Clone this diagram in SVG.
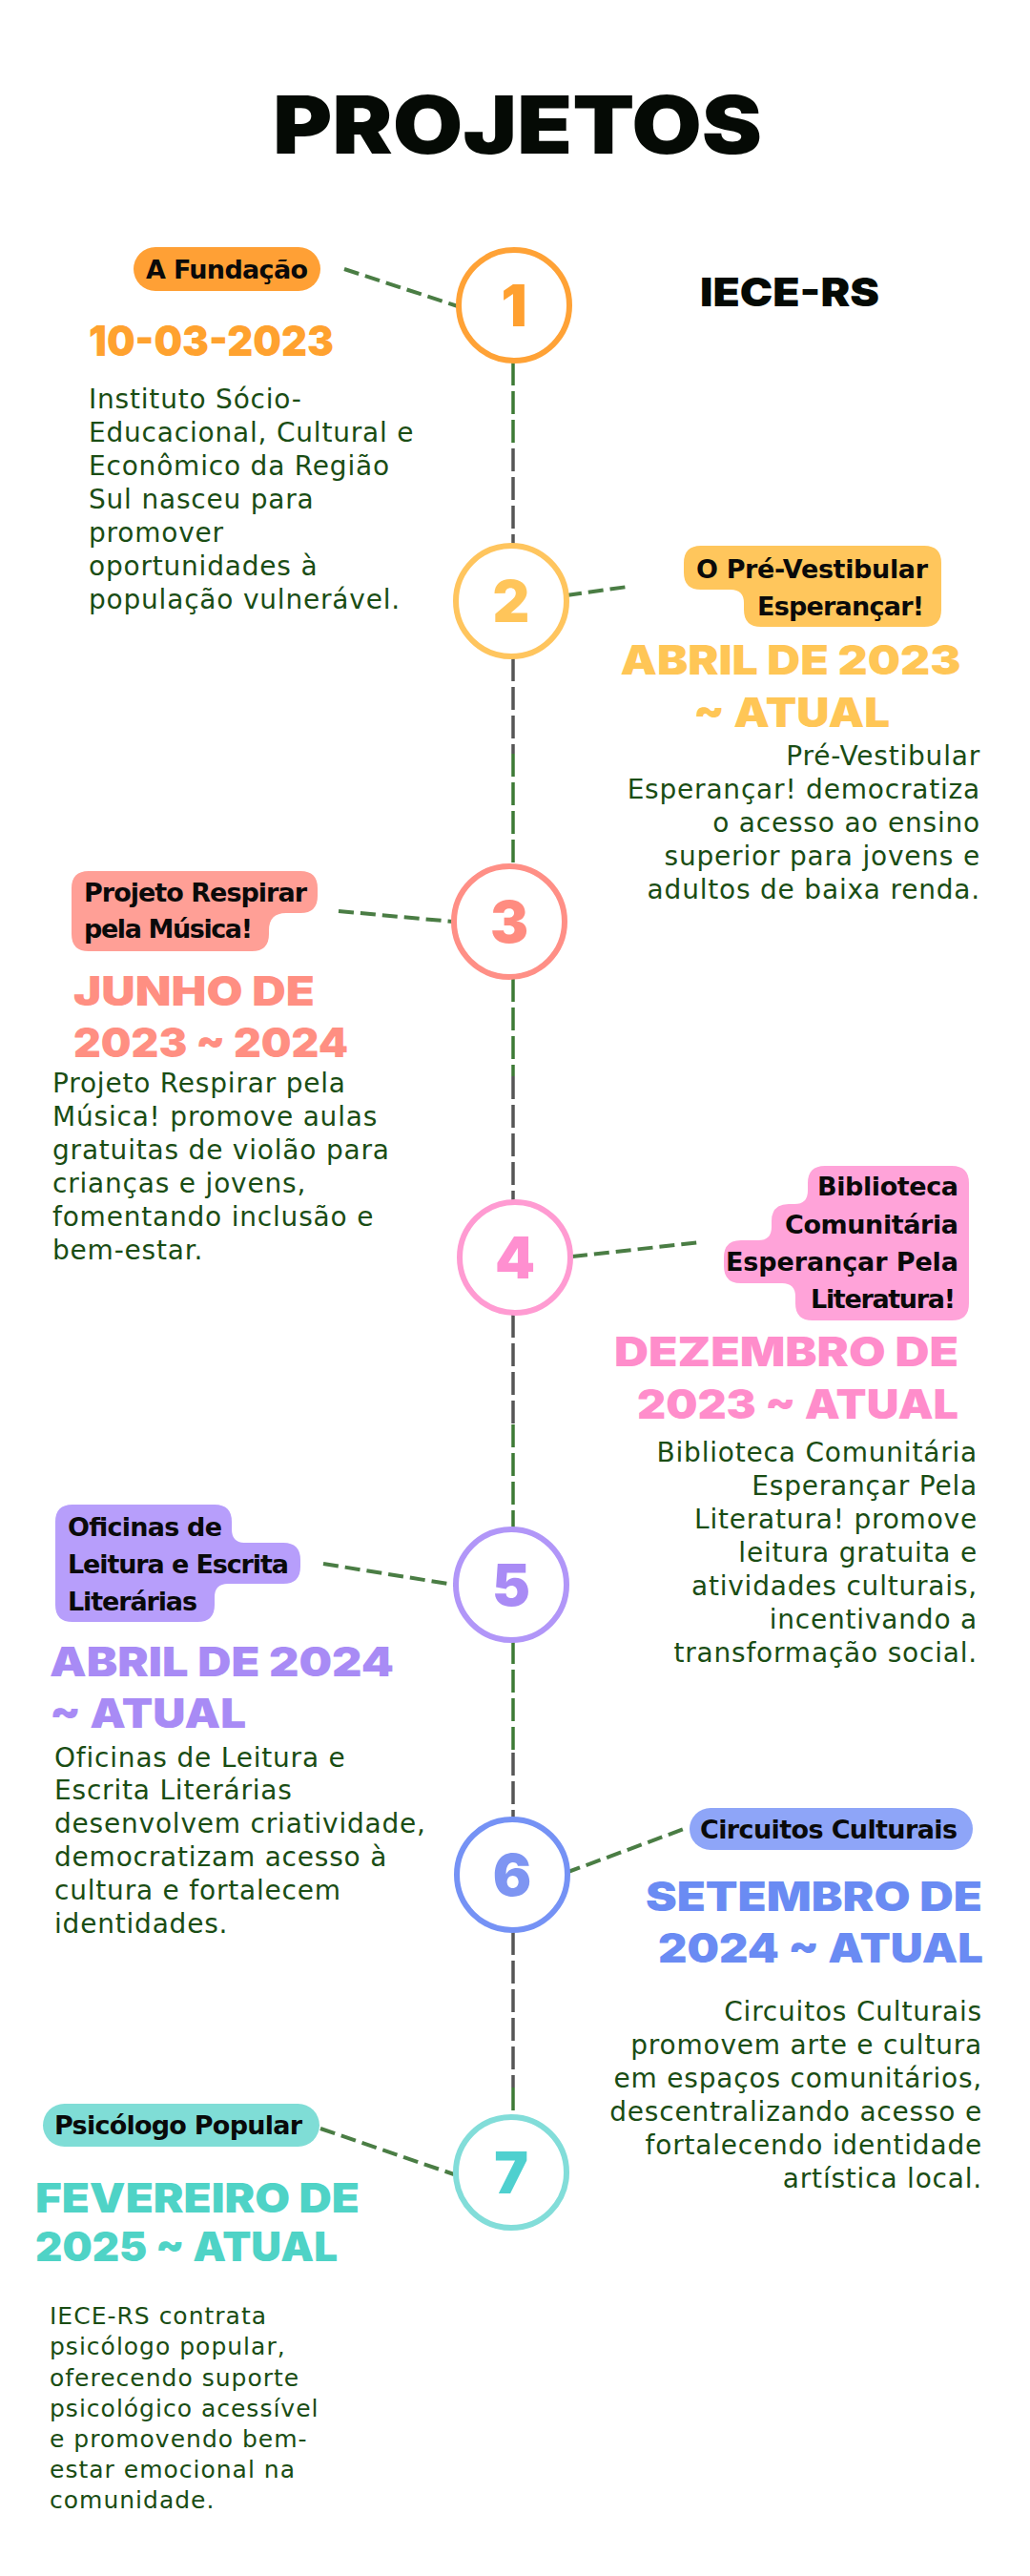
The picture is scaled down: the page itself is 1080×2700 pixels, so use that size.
<svg xmlns="http://www.w3.org/2000/svg" width="1080" height="2700" viewBox="0 0 1080 2700">
<defs>
<style>
.bg{fill:#ffffff}
.title{font-family:Inter,"DejaVu Sans",sans-serif;font-weight:900;fill:#050a05}
.head{font-family:Inter,"DejaVu Sans",sans-serif;font-weight:900}
.lbl{font-family:"DejaVu Sans","Liberation Sans",sans-serif;font-weight:bold;font-size:27px;fill:#0a0a0a}
.body{font-family:"DejaVu Sans","Liberation Sans",sans-serif;font-size:28px;letter-spacing:0.8px;fill:#1a4d14}
.body7{font-family:"DejaVu Sans","Liberation Sans",sans-serif;font-size:25px;letter-spacing:1px;fill:#1a4d14}
.num{font-family:Inter,"DejaVu Sans",sans-serif;font-weight:900;font-size:60px;text-anchor:middle}
.ring{fill:#ffffff;stroke-width:6}
.conn{fill:none;stroke:#4a7d44;stroke-width:4;stroke-dasharray:16 7}
.sg{fill:none;stroke:#3d7a35;stroke-width:3.5;stroke-dasharray:24 6}
.sd{fill:none;stroke:#555555;stroke-width:3.5;stroke-dasharray:24 6}
.end{text-anchor:end}
.mid{text-anchor:middle}
</style>
</defs>
<rect class="bg" x="0" y="0" width="1080" height="2700"/>

<g id="title">
<text class="title" x="286" y="161" font-size="84" textLength="513" lengthAdjust="spacingAndGlyphs">PROJETOS</text>
<text class="title" x="734" y="321" font-size="41" font-weight="800" textLength="188" lengthAdjust="spacingAndGlyphs">IECE-RS</text>
</g>

<g id="connectors">
<line class="sg" x1="538" y1="380" x2="538" y2="470"/>
<line class="sd" x1="538" y1="470" x2="538" y2="572"/>
<line class="sd" x1="538" y1="690" x2="538" y2="790"/>
<line class="sg" x1="538" y1="790" x2="538" y2="907"/>
<line class="sg" x1="538" y1="1026" x2="538" y2="1128"/>
<line class="sd" x1="538" y1="1128" x2="538" y2="1259"/>
<line class="sd" x1="538" y1="1378" x2="538" y2="1493"/>
<line class="sg" x1="538" y1="1493" x2="538" y2="1602"/>
<line class="sg" x1="538" y1="1720" x2="538" y2="1837"/>
<line class="sd" x1="538" y1="1837" x2="538" y2="1906"/>
<line class="sd" x1="538" y1="2025" x2="538" y2="2188"/>
<line class="sg" x1="538" y1="2188" x2="538" y2="2218"/>
<line class="conn" x1="361" y1="282" x2="480" y2="321"/>
<line class="conn" x1="594" y1="624" x2="658" y2="615"/>
<line class="conn" x1="355" y1="955" x2="475" y2="966"/>
<line class="conn" x1="600" y1="1317" x2="735" y2="1302"/>
<line class="conn" x1="339" y1="1639" x2="476" y2="1661"/>
<line class="conn" x1="593" y1="1963" x2="717" y2="1917"/>
<line class="conn" x1="336" y1="2231" x2="476" y2="2279"/>
</g>

<g id="node1">
<rect x="140" y="259" width="196" height="46" rx="23" fill="#ffa035"/>
<text class="lbl" x="153" y="292" textLength="170">A Fundação</text>
<circle class="ring" cx="539" cy="320" r="58" stroke="#ffa236"/>
<text class="num" x="539" y="342" fill="#ffa030">1</text>
<text class="head" x="93" y="373" font-size="44" fill="#ffa22f" textLength="257" lengthAdjust="spacingAndGlyphs">10-03-2023</text>
<text class="body" x="93" y="428">Instituto Sócio-</text>
<text class="body" x="93" y="463">Educacional, Cultural e</text>
<text class="body" x="93" y="498">Econômico da Região</text>
<text class="body" x="93" y="533">Sul nasceu para</text>
<text class="body" x="93" y="568">promover</text>
<text class="body" x="93" y="603">oportunidades à</text>
<text class="body" x="93" y="638">população vulnerável.</text>
</g>

<g id="node2">
<path d="M735,572 H969 Q987,572 987,590 V639 Q987,657 969,657 H798 Q780,657 780,639 V632 Q780,618 766,618 H735 Q717,618 717,600 V590 Q717,572 735,572 Z" fill="#ffc65c"/>
<text class="lbl end" x="973" y="606" textLength="243">O Pré-Vestibular</text>
<text class="lbl end" x="969" y="645" textLength="175">Esperançar!</text>
<circle class="ring" cx="536" cy="630" r="58" stroke="#ffc55e"/>
<text class="num" x="536" y="652" fill="#ffc55a">2</text>
<text class="head mid" x="829" y="707" font-size="42" fill="#ffc656" textLength="357" lengthAdjust="spacingAndGlyphs">ABRIL DE 2023</text>
<text class="head mid" x="830" y="762" font-size="42" fill="#ffc656" textLength="206" lengthAdjust="spacingAndGlyphs">~ ATUAL</text>
<text class="body end" x="1028" y="802">Pré-Vestibular</text>
<text class="body end" x="1028" y="837">Esperançar! democratiza</text>
<text class="body end" x="1028" y="872">o acesso ao ensino</text>
<text class="body end" x="1028" y="907">superior para jovens e</text>
<text class="body end" x="1028" y="942">adultos de baixa renda.</text>
</g>

<g id="node3">
<path d="M93,913 H315 Q333,913 333,931 V939 Q333,957 315,957 H300 Q282,957 282,975 V979 Q282,997 264,997 H93 Q75,997 75,979 V931 Q75,913 93,913 Z" fill="#ff9f96"/>
<text class="lbl" x="88" y="945" textLength="234">Projeto Respirar</text>
<text class="lbl" x="88" y="983" textLength="177">pela Música!</text>
<circle class="ring" cx="534" cy="966" r="58" stroke="#ff8f86"/>
<text class="num" x="534" y="988" fill="#ff8c80">3</text>
<text class="head" x="77" y="1054" font-size="42" fill="#ff8f82" textLength="253" lengthAdjust="spacingAndGlyphs">JUNHO DE</text>
<text class="head" x="77" y="1108" font-size="42" fill="#ff8f82" textLength="288" lengthAdjust="spacingAndGlyphs">2023 ~ 2024</text>
<text class="body" x="55" y="1145">Projeto Respirar pela</text>
<text class="body" x="55" y="1180">Música! promove aulas</text>
<text class="body" x="55" y="1215">gratuitas de violão para</text>
<text class="body" x="55" y="1250">crianças e jovens,</text>
<text class="body" x="55" y="1285">fomentando inclusão e</text>
<text class="body" x="55" y="1320">bem-estar.</text>
</g>

<g id="node4">
<path d="M865,1222 H998 Q1016,1222 1016,1240 V1366 Q1016,1384 998,1384 H852 Q834,1384 834,1366 V1359 Q834,1345 820,1345 H777 Q759,1345 759,1327 V1318 Q759,1300 777,1300 H795 Q809,1300 809,1286 V1280 Q809,1262 827,1262 H833 Q847,1262 847,1248 V1240 Q847,1222 865,1222 Z" fill="#ffa3d9"/>
<text class="lbl end" x="1005" y="1253" textLength="148">Biblioteca</text>
<text class="lbl end" x="1005" y="1293" textLength="182">Comunitária</text>
<text class="lbl end" x="1005" y="1332" textLength="244">Esperançar Pela</text>
<text class="lbl end" x="1002" y="1371" textLength="152">Literatura!</text>
<circle class="ring" cx="540" cy="1318" r="58" stroke="#ff9bd2"/>
<text class="num" x="540" y="1340" fill="#ff8fd0">4</text>
<text class="head end" x="1005" y="1432" font-size="42" fill="#ff8dcb" textLength="361" lengthAdjust="spacingAndGlyphs">DEZEMBRO DE</text>
<text class="head end" x="1005" y="1487" font-size="42" fill="#ff8dcb" textLength="337" lengthAdjust="spacingAndGlyphs">2023 ~ ATUAL</text>
<text class="body end" x="1025" y="1532">Biblioteca Comunitária</text>
<text class="body end" x="1025" y="1567">Esperançar Pela</text>
<text class="body end" x="1025" y="1602">Literatura! promove</text>
<text class="body end" x="1025" y="1637">leitura gratuita e</text>
<text class="body end" x="1025" y="1672">atividades culturais,</text>
<text class="body end" x="1025" y="1707">incentivando a</text>
<text class="body end" x="1025" y="1742">transformação social.</text>
</g>

<g id="node5">
<path d="M76,1577 H225 Q243,1577 243,1595 V1603 Q243,1617 257,1617 H297 Q315,1617 315,1635 V1642 Q315,1660 297,1660 H239 Q225,1660 225,1674 V1682 Q225,1700 207,1700 H76 Q58,1700 58,1682 V1595 Q58,1577 76,1577 Z" fill="#b79efb"/>
<text class="lbl" x="71" y="1610" textLength="162">Oficinas de</text>
<text class="lbl" x="71" y="1649" textLength="232">Leitura e Escrita</text>
<text class="lbl" x="71" y="1688" textLength="136">Literárias</text>
<circle class="ring" cx="536" cy="1661" r="58" stroke="#b196f8"/>
<text class="num" x="536" y="1683" fill="#a98bf5">5</text>
<text class="head" x="52" y="1757" font-size="42" fill="#a88bf5" textLength="361" lengthAdjust="spacingAndGlyphs">ABRIL DE 2024</text>
<text class="head" x="52" y="1811" font-size="42" fill="#a88bf5" textLength="206" lengthAdjust="spacingAndGlyphs">~ ATUAL</text>
<text class="body" x="57" y="1852">Oficinas de Leitura e</text>
<text class="body" x="57" y="1886">Escrita Literárias</text>
<text class="body" x="57" y="1921">desenvolvem criatividade,</text>
<text class="body" x="57" y="1956">democratizam acesso à</text>
<text class="body" x="57" y="1991">cultura e fortalecem</text>
<text class="body" x="57" y="2026">identidades.</text>
</g>

<g id="node6">
<rect x="723" y="1895" width="297" height="44" rx="22" fill="#8ea5f8"/>
<text class="lbl" x="734" y="1927" textLength="270">Circuitos Culturais</text>
<circle class="ring" cx="537" cy="1965" r="58" stroke="#7592f5"/>
<text class="num" x="537" y="1987" fill="#7e95f2">6</text>
<text class="head end" x="1030" y="2003" font-size="42" fill="#6a8bf3" textLength="353" lengthAdjust="spacingAndGlyphs">SETEMBRO DE</text>
<text class="head end" x="1031" y="2057" font-size="42" fill="#6a8bf3" textLength="341" lengthAdjust="spacingAndGlyphs">2024 ~ ATUAL</text>
<text class="body end" x="1030" y="2118">Circuitos Culturais</text>
<text class="body end" x="1030" y="2153">promovem arte e cultura</text>
<text class="body end" x="1030" y="2188">em espaços comunitários,</text>
<text class="body end" x="1030" y="2223">descentralizando acesso e</text>
<text class="body end" x="1030" y="2258">fortalecendo identidade</text>
<text class="body end" x="1030" y="2293">artística local.</text>
</g>

<g id="node7">
<rect x="45" y="2205" width="290" height="45" rx="22.5" fill="#7fddd6"/>
<text class="lbl" x="57" y="2237" textLength="260">Psicólogo Popular</text>
<circle class="ring" cx="536" cy="2277" r="58" stroke="#82ddd9"/>
<text class="num" x="536" y="2299" fill="#4fd0cf">7</text>
<text class="head" x="37" y="2319" font-size="42" fill="#4fd3c6" textLength="340" lengthAdjust="spacingAndGlyphs">FEVEREIRO DE</text>
<text class="head" x="37" y="2370" font-size="42" fill="#4fd3c6" textLength="317" lengthAdjust="spacingAndGlyphs">2025 ~ ATUAL</text>
<text class="body7" x="52" y="2436">IECE-RS contrata</text>
<text class="body7" x="52" y="2468">psicólogo popular,</text>
<text class="body7" x="52" y="2501">oferecendo suporte</text>
<text class="body7" x="52" y="2533">psicológico acessível</text>
<text class="body7" x="52" y="2565">e promovendo bem-</text>
<text class="body7" x="52" y="2597">estar emocional na</text>
<text class="body7" x="52" y="2629">comunidade.</text>
</g>
</svg>
